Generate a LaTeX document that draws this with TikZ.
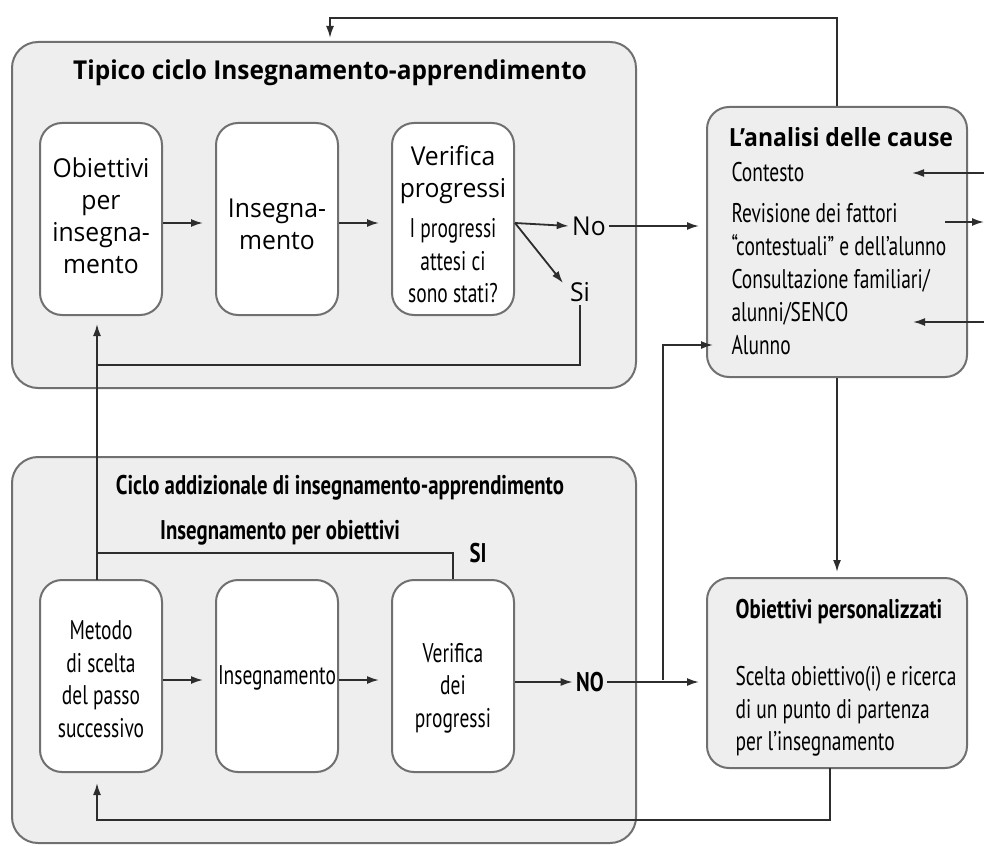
\documentclass[tikz,border=0pt]{standalone}
\usepackage{fontspec}
\usetikzlibrary{arrows.meta}
\setmainfont{Open Sans}
\newfontfamily\regf[FakeStretch=0.95]{Open Sans}
\newfontfamily\regb[FakeStretch=0.94]{Open Sans}
\newfontfamily\regc[FakeStretch=0.92]{Open Sans}
\newfontfamily\condf[FakeStretch=0.72]{PT Sans}
\newfontfamily\condb[FakeStretch=0.77]{PT Sans}
\definecolor{panelfill}{RGB}{238,238,238}
\definecolor{panelline}{RGB}{112,112,112}
\definecolor{wire}{RGB}{45,45,45}
\tikzset{
  panel/.style={draw=panelline, line width=2pt, fill=panelfill, rounded corners=26pt, inner sep=0pt},
  stepbox/.style={draw=panelline, line width=2pt, fill=white, rounded corners=22pt,
    minimum width=122pt, minimum height=192pt, inner sep=0pt, align=center},
  sidebox/.style={draw=panelline, line width=2pt, fill=panelfill, rounded corners=22pt,
    minimum width=260pt, inner sep=0pt},
  regtext/.style={font=\regf\fontsize{26}{32}\selectfont, align=center},
  condtext/.style={font=\condf\fontsize{27}{32.5}\selectfont},
  condbold/.style={font=\condb\bfseries\fontsize{27}{32}\selectfont},
  wirel/.style={draw=wire, line width=1.8pt},
  arr/.style={wirel, -{Latex[length=12pt,width=8pt]}},
}
\begin{document}
\begin{tikzpicture}[x=1pt,y=-1pt]
\useasboundingbox (0,0) rectangle (984,845);

% containers
\node[panel, minimum width=624pt, minimum height=346pt] (top) at (324,215) {};
\node[panel, minimum width=624pt, minimum height=386pt] (bot) at (324,650) {};
\node[sidebox, minimum height=270pt] (ana) at (837,242) {};
\node[sidebox, minimum height=190pt] (op) at (837,673) {};

% titles
\node[font=\regb\bfseries\fontsize{26}{30}\selectfont] (toptitle) at (330,73) {Tipico ciclo Insegnamento-apprendimento};
\node[condbold] (bottitle) at (340,488) {Ciclo addizionale di insegnamento-apprendimento};
\node[condbold] (perobj) at (280,533) {Insegnamento per obiettivi};
\node[condbold] (siup) at (478,553) {SI};

% typical cycle
\node[stepbox] (b1) at (101,219) {};
\node[regtext] (b1t) at (101,216) {Obiettivi\\per\\insegna-\\mento};
\node[stepbox] (b2) at (277,219) {};
\node[regtext] (b2t) at (277,224) {Insegna-\\mento};
\node[stepbox] (b3) at (453,219) {};
\node[regtext] (b3a) at (453,175) {Verifica\\progressi};
\node[condtext, align=center] (b3b) at (453,261) {I progressi\\attesi ci\\sono stati?};
\node[regtext] (no) at (589,226) {No};
\node[regtext] (si) at (580,292) {Si};

% additional cycle
\node[stepbox] (m1) at (101,676) {};
\node[condtext, align=center] (m1t) at (101,679) {Metodo\\di scelta\\del passo\\successivo};
\node[stepbox] (m2) at (277,676) {};
\node[condtext] (m2t) at (277,678) {Insegnamento};
\node[stepbox] (m3) at (453,676) {};
\node[condtext, align=center] (m3t) at (453,688) {Verifica\\dei\\progressi};
\node[condbold] (nob) at (590,682) {NO};

% cause analysis
\node[font=\regc\bfseries\fontsize{25}{30}\selectfont] (anatitle) at (841,137) {L’analisi delle cause};
\node[condtext, align=left, anchor=north west, font=\condf\fontsize{27}{33}\selectfont] (anatext) at (728,159)
  {Contesto\\[8pt]Revisione dei fattori\\“contestuali” e dell’alunno\\Consultazione familiari/\\alunni/SENCO\\Alunno};

% personalised objectives
\node[condbold] (optitle) at (839,612) {Obiettivi personalizzati};
\node[condtext, align=left, anchor=north west] (optext) at (732,663)
  {Scelta obiettivo(i) e ricerca\\di un punto di partenza\\per l’insegnamento};

% helper points
\coordinate (topy) at (330,18);
\coordinate (topin) at (330,42);
\coordinate (fork) at (515,223);
\coordinate (sitip) at (563,283);
\coordinate (j1) at (97,365);
\coordinate (j3) at (97,553);
\coordinate (j2) at (663,680);
\coordinate (alu) at (713,345);
\coordinate (ctxout) at (984,173);
\coordinate (ctxin) at (912,173);
\coordinate (revs) at (945,222);
\coordinate (revt) at (984,222);
\coordinate (conout) at (984,322);
\coordinate (conin) at (913,322);
\coordinate (low) at (830,820);
\coordinate (opb) at (830,768);
\coordinate (m1up) at (97,580);
\coordinate (b1dn) at (97,315);
\coordinate (m1dn) at (97,773);

% connectors, typical cycle
\draw[arr, shorten >=12pt] (b1.east |- 0,223) -- (b2.west |- 0,223);
\draw[arr, shorten >=12pt] (b2.east |- 0,223) -- (b3.west |- 0,223);
\draw[arr] (fork) -- (no.west);
\draw[arr] (fork) -- (sitip);
\draw[arr, shorten >=7pt] (no.east) -- (ana.west |- no.east);
\draw[wirel] (si.south) |- (j1);
\draw[arr, shorten >=9pt] (m1up) -- (b1dn);
\draw[wirel] (m3.north) |- (j3);

% feedback loops
\draw[arr, shorten >=4pt] (ana.north) |- (topy) -- (topin);
\draw[arr] (ctxout) -- (ctxin);
\draw[arr] (revs) -- (revt);
\draw[arr] (conout) -- (conin);
\draw[arr, shorten >=5pt] (ana.south) -- (op.north);

% connectors, additional cycle
\draw[arr, shorten >=12pt] (m1.east |- 0,680) -- (m2.west |- 0,680);
\draw[arr, shorten >=12pt] (m2.east |- 0,680) -- (m3.west |- 0,680);
\draw[arr] (m3.east |- nob) -- (nob.west);
\draw[arr, shorten >=7pt] (nob.east) -- (op.west |- nob.east);
\draw[arr] (j2) |- (alu);
\draw[arr, shorten >=10pt] (opb) -- (low) -| (m1dn);
\end{tikzpicture}
\end{document}
